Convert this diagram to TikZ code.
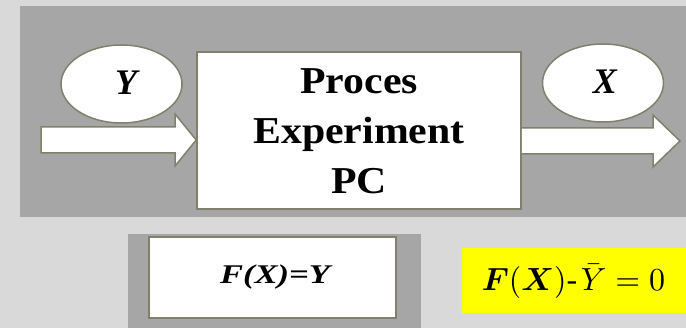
\documentclass[tikz,border=0pt]{standalone}
\usepackage{amsmath}
\usepackage{fontspec}
\setmainfont{Liberation Serif}
\newfontfamily\widefont{Liberation Serif}[FakeStretch=1.1]
\newfontfamily\eqfont{Liberation Serif}[FakeStretch=1.28]
\usetikzlibrary{shapes.geometric}

\definecolor{pagebg}{RGB}{217,217,217}
\definecolor{panelgray}{RGB}{166,166,166}
\definecolor{edge}{RGB}{128,128,108}
\definecolor{hilite}{RGB}{255,255,0}

\tikzset{
  whitebox/.style={draw=edge, fill=white, line width=1.5pt, inner sep=0pt},
  varoval/.style={ellipse, draw=edge, fill=white, line width=1.5pt, inner sep=0pt,
    minimum width=121pt, minimum height=78pt},
  varletter/.style={font=\fontsize{36}{40}\selectfont\bfseries\itshape},
  blockarrow/.style={draw=edge, fill=white, line width=1.5pt, line join=miter},
}

\begin{document}
\begin{tikzpicture}[x=1pt, y=-1pt]
  % page and the grey panel behind the process row
  \fill[pagebg] (0,0) rectangle (686,328);
  \useasboundingbox (0,0) rectangle (686,328);
  \fill[panelgray] (20,6) rectangle (686,217);

  % process box
  \node[whitebox, minimum width=324pt, minimum height=157pt] (proc) at (359,130.5) {};
  \node[align=center, font=\widefont\fontsize{38}{50}\selectfont\bfseries]
    (proctext) at (359,131) {Proces\\Experiment\\PC};

  % input and output variables
  \node[varoval] (yin) at (121.5,84) {};
  \node[varletter] (ylabel) at (126,83) {Y};
  \node[varoval] (xout) at (603,83) {};
  \node[varletter] (xlabel) at (605,82) {X};

  % input arrow into the process
  \filldraw[blockarrow] (41,127) -- (175,127) -- (175,114) -- (proc.west |- 0,140)
    -- (175,166) -- (175,153) -- (41,153) -- cycle;
  % output arrow leaving the process (open at the box side)
  \fill[white] (proc.east |- 0,128) -- (653,128) -- (653,115) -- (680,141)
    -- (653,167) -- (653,154) -- (proc.east |- 0,154) -- cycle;
  \draw[blockarrow, fill=none] (proc.east |- 0,128) -- (653,128) -- (653,115) -- (680,141)
    -- (653,167) -- (653,154) -- (proc.east |- 0,154);

  % model relation
  \fill[panelgray] (128,234) rectangle (421,328);
  \node[whitebox, minimum width=247pt, minimum height=81pt] (model) at (272.5,277.5) {};
  \node[font=\eqfont\fontsize{27}{30}\selectfont\bfseries\itshape] (modeltext)
    at (275,277) {F(X)=Y};

  % highlighted residual form
  \node[fill=hilite, minimum width=224pt, minimum height=65pt, inner sep=0pt]
    (resid) at (574,280.5) {};
  \node (residtext) at (573.5,281)
    {\scalebox{3.2}{$\boldsymbol{F}(\boldsymbol{X})\text{-}\mkern2mu\bar{Y} = 0$}};
\end{tikzpicture}
\end{document}
